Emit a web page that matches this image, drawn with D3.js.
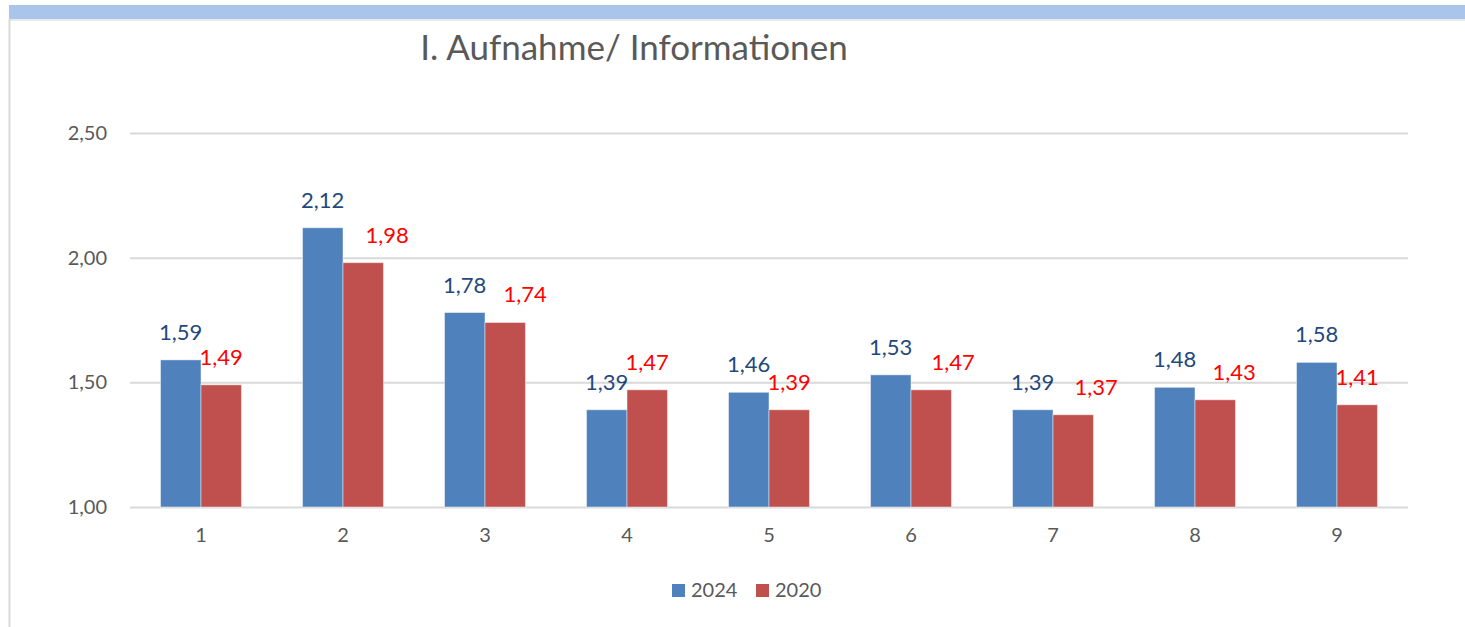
<!DOCTYPE html>
<html>
<head>
<meta charset="utf-8">
<script src="https://cdn.jsdelivr.net/npm/d3@7"></script>
<style>
  body { margin: 0; background: #fff; }
  text { font-family: Lato, "Open Sans", sans-serif; }
</style>
</head>
<body>
<div id="chart"></div>
<script>
// categories and series values
const categories = ["1", "2", "3", "4", "5", "6", "7", "8", "9"];
const seriesNames = ["2024", "2020"];
const values2024 = [1.59, 2.12, 1.78, 1.39, 1.46, 1.53, 1.39, 1.48, 1.58];
const values2020 = [1.49, 1.98, 1.74, 1.47, 1.39, 1.47, 1.37, 1.43, 1.41];
const yTicks = [1.0, 1.5, 2.0, 2.5];

// hand-moved 2020 labels in the original (px to the right)
const labelNudge2020 = [0, 24, 20, 0, 0, 22, 23, 19, 0];

const colors = { "2024": "#4f81bd", "2020": "#c0504d" };
const labelColors = { "2024": "#1f497d", "2020": "#ff0000" };

const W = 1465, H = 627;
const margin = { top: 133, right: 57, bottom: 120, left: 130 };

const svg = d3.select("#chart")
  .append("svg")
  .attr("width", W)
  .attr("height", H);

// frame: blue band on top, thin grey border on the left
svg.append("rect").attr("x", 9).attr("y", 5).attr("width", W - 9).attr("height", 14).attr("fill", "#a9c6ea");
svg.append("line").attr("x1", 9).attr("x2", W).attr("y1", 20).attr("y2", 20).attr("stroke", "#e3e3e3").attr("stroke-width", 1.5);
svg.append("line").attr("x1", 9.5).attr("x2", 9.5).attr("y1", 19).attr("y2", H).attr("stroke", "#d9d9d9").attr("stroke-width", 2);

// title
svg.append("text")
  .attr("x", 634)
  .attr("y", 60)
  .attr("text-anchor", "middle")
  .attr("font-size", 35)
  .attr("fill", "#595959")
  .text("I. Aufnahme/ Informationen");

const locale = d3.formatLocale({ decimal: ",", thousands: ".", grouping: [3], currency: ["", "€"] });
const fmt = locale.format(".2f");

const x0 = d3.scaleBand()
  .domain(categories)
  .range([margin.left, W - margin.right]);

const x1 = d3.scaleBand()
  .domain(seriesNames)
  .range([x0.bandwidth() * 0.215, x0.bandwidth() * 0.785]);

const y = d3.scaleLinear()
  .domain([1, 2.5])
  .range([H - margin.bottom, margin.top]);

// gridlines + y labels
const yAxis = svg.append("g")
  .attr("transform", `translate(${margin.left},0)`)
  .call(d3.axisLeft(y).tickValues(yTicks).tickFormat(fmt)
    .tickSize(-(W - margin.left - margin.right)).tickPadding(23));
yAxis.select(".domain").remove();
yAxis.selectAll(".tick line").attr("stroke", "#d9d9d9").attr("stroke-width", 2);
yAxis.selectAll(".tick text").attr("font-size", 20).attr("fill", "#595959")
  .style("font-family", "Lato, 'Open Sans', sans-serif");

// x labels
const xAxis = svg.append("g")
  .attr("transform", `translate(0,${H - margin.bottom})`)
  .call(d3.axisBottom(x0).tickSize(0).tickPadding(21));
xAxis.select(".domain").remove();
xAxis.selectAll(".tick text").attr("font-size", 20).attr("fill", "#595959")
  .style("font-family", "Lato, 'Open Sans', sans-serif");

const rows = categories.map((c, i) => ({
  cat: c,
  i: i,
  vals: [
    { key: "2024", value: values2024[i], nudge: 0 },
    { key: "2020", value: values2020[i], nudge: labelNudge2020[i] }
  ]
}));

const groups = svg.append("g").selectAll("g")
  .data(rows)
  .enter()
  .append("g")
  .attr("transform", d => `translate(${x0(d.cat)},0)`);

groups.selectAll("rect")
  .data(d => d.vals)
  .enter()
  .append("rect")
  .attr("x", d => x1(d.key))
  .attr("y", d => y(d.value))
  .attr("width", x1.bandwidth())
  .attr("height", d => y(1) - y(d.value))
  .attr("fill", d => colors[d.key])
  .attr("stroke", "#ffffff")
  .attr("stroke-opacity", 0.45)
  .attr("stroke-width", 1);

groups.selectAll("text")
  .data(d => d.vals)
  .enter()
  .append("text")
  .attr("x", d => x1(d.key) + x1.bandwidth() / 2 + d.nudge)
  .attr("y", d => y(d.value) - 20)
  .attr("text-anchor", "middle")
  .attr("font-size", 22)
  .attr("fill", d => labelColors[d.key])
  .text(d => fmt(d.value));

// legend
const legend = svg.append("g").attr("transform", "translate(672,584)");
const legendX = [0, 84];
seriesNames.forEach((s, i) => {
  legend.append("rect").attr("x", legendX[i]).attr("y", 0).attr("width", 13).attr("height", 13).attr("fill", colors[s]);
  legend.append("text").attr("x", legendX[i] + 19).attr("y", 13).attr("font-size", 20).attr("fill", "#595959").text(s);
});
</script>
</body>
</html>
